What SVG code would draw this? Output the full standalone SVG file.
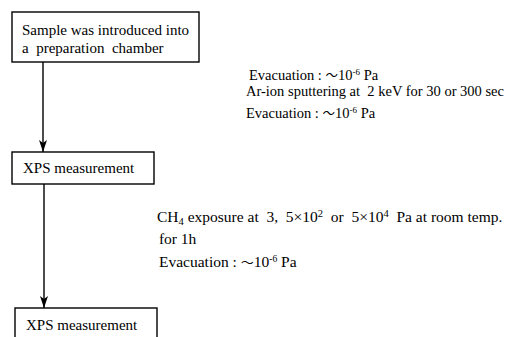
<svg xmlns="http://www.w3.org/2000/svg" width="513" height="337" viewBox="0 0 513 337">
<style>
.box{fill:#fff;stroke:#000;stroke-width:1.4}
.c{stroke:#000;stroke-width:1.4;fill:none}
text{white-space:pre}
</style>
<defs>
<marker id="ah" viewBox="0 0 12 8" refX="12" refY="4" markerWidth="12" markerHeight="8" markerUnits="userSpaceOnUse" orient="auto">
<path d="M0,0 L12,4 L0,8 L3,4 Z" fill="#000"/>
</marker>
</defs>
<rect width="513" height="337" fill="#fff"/>
<g id="connectors">
<line class="c" x1="43" y1="62" x2="43" y2="152" marker-end="url(#ah)"/>
<line class="c" x1="44" y1="184" x2="44" y2="308" marker-end="url(#ah)"/>
</g>
<g font-family="Liberation Serif, Times New Roman, serif" font-size="15" fill="#000">
<g id="node-sample">
<rect class="box" x="12" y="12" width="187" height="50"/>
<text x="22" y="35">Sample was introduced into</text>
<text x="22" y="53">a  preparation  chamber</text>
</g>
<g id="node-xps1">
<rect class="box" x="12" y="152" width="142" height="32"/>
<text x="23" y="173">XPS measurement</text>
</g>
<g id="node-xps2">
<rect class="box" x="15" y="308" width="142" height="40"/>
<text x="26" y="330">XPS measurement</text>
</g>
<g id="label-step1" font-size="14.5">
<text x="249" y="80">Evacuation : <tspan font-family="Noto Sans CJK JP, sans-serif" font-size="12.5">～</tspan>10<tspan font-size="9" dy="-5">-6</tspan><tspan dy="5"> Pa</tspan></text>
<text x="246" y="96">Ar-ion sputtering at  2 keV for 30 or 300 sec</text>
<text x="246" y="118">Evacuation : <tspan font-family="Noto Sans CJK JP, sans-serif" font-size="12.5">～</tspan>10<tspan font-size="9" dy="-5">-6</tspan><tspan dy="5"> Pa</tspan></text>
</g>
<g id="label-step2" font-size="15.5">
<text x="157" y="222">CH<tspan font-size="10.5" dy="3">4</tspan><tspan dy="-3"> exposure at  3,  5×10</tspan><tspan font-size="10.5" dy="-5">2</tspan><tspan dy="5">  or  5×10</tspan><tspan font-size="10.5" dy="-5">4</tspan><tspan dy="5">  Pa at room temp.</tspan></text>
<text x="155" y="244"> for 1h</text>
<text x="159" y="267">Evacuation : <tspan font-family="Noto Sans CJK JP, sans-serif" font-size="13">～</tspan>10<tspan font-size="9.5" dy="-5">-6</tspan><tspan dy="5"> Pa</tspan></text>
</g>
</g>
</svg>
